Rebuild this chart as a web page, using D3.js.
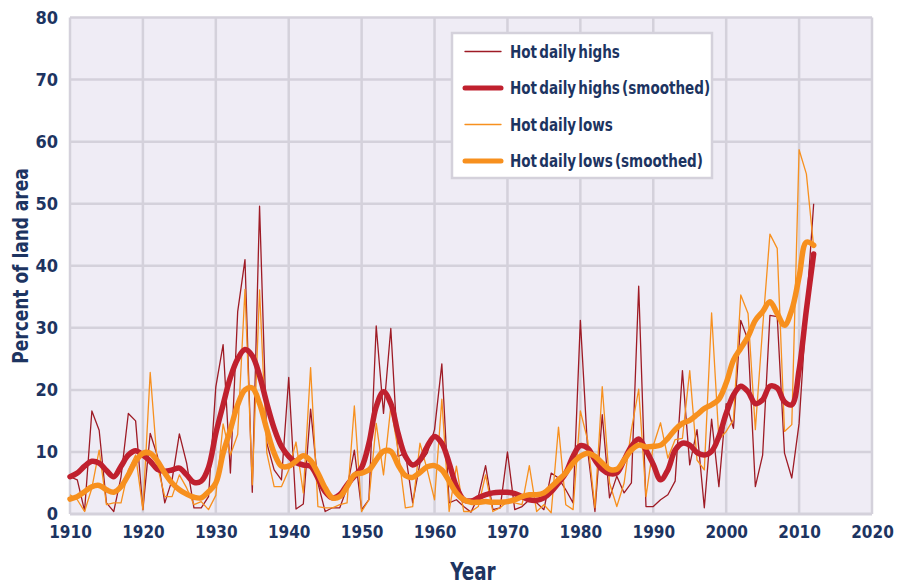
<!DOCTYPE html>
<meta charset="utf-8">
<style>
body { margin: 0; background: #fff; }
text {
  font-family: "Liberation Sans Narrow", "DejaVu Sans Condensed", "DejaVu Sans", sans-serif;
  font-stretch: condensed;
  font-weight: bold;
  fill: #1d3461;
}
.grid line { stroke: #d4d1db; stroke-width: 2.5; }
.thin { fill: none; stroke-width: 1.3; stroke-linejoin: round; }
.thick { fill: none; stroke-width: 5.5; stroke-linecap: round; stroke-linejoin: round; }
</style>
<body>
<script src="https://d3js.org/d3.v7.min.js"></script>
<script>

// years 1910 .. 2012
var startYear = 1910;

// percent of land area with unusually hot daily highs
var highs = [6.0, 5.5, 0.5, 16.6, 13.5, 1.8, 0.4, 6.0, 16.2, 15.0,
  0.7, 13.0, 9.3, 1.8, 5.5, 12.9, 8.2, 1.0, 1.0, 2.8,
  20.5, 27.3, 6.6, 32.6, 41.0, 3.5, 49.6, 11.4, 7.1, 5.5,
  22.0, 0.8, 1.6, 16.9, 5.0, 0.4, 1.0, 1.0, 4.2, 10.3,
  0.7, 2.3, 30.3, 16.2, 29.9, 9.3, 9.8, 1.8, 8.2, 9.8,
  13.6, 24.2, 1.8, 2.3, 1.2, 0.3, 2.8, 7.8, 0.7, 1.0,
  10.0, 0.7, 1.2, 2.3, 1.8, 0.7, 6.6, 5.8, 3.9, 1.8,
  31.2, 10.3, 0.4, 16.0, 2.6, 6.1, 3.4, 5.0, 36.7, 1.2,
  1.2, 2.3, 3.1, 5.3, 23.1, 7.9, 13.6, 1.0, 15.3, 4.4,
  17.8, 13.8, 31.2, 28.0, 4.4, 9.5, 32.0, 31.8, 9.8, 5.8,
  14.6, 33.0, 50.0];

var highsSmooth = [6.0, 6.6, 7.7, 8.5, 8.2, 7.0, 6.0, 7.7, 9.5, 10.2,
  9.5, 8.5, 7.2, 6.9, 7.1, 7.4, 6.3, 5.1, 5.3, 7.5,
  13.0, 17.6, 22.0, 25.0, 26.5, 25.5, 22.3, 17.8, 13.8, 10.9,
  9.3, 8.3, 7.9, 7.7, 5.8, 3.6, 2.6, 3.1, 4.7, 6.1,
  7.5, 11.4, 17.3, 19.7, 17.8, 13.0, 9.3, 7.9, 8.7, 10.9,
  12.5, 11.4, 8.2, 4.4, 2.3, 2.1, 2.6, 3.1, 3.4, 3.5,
  3.5, 3.3, 2.8, 2.3, 2.2, 2.6, 3.6, 5.0, 6.6, 9.3,
  11.0, 10.6, 8.7, 7.2, 6.5, 6.6, 8.7, 10.9, 12.1, 10.3,
  8.0, 5.5, 7.1, 10.3, 11.4, 11.1, 9.9, 9.5, 10.1, 12.5,
  16.2, 19.2, 20.6, 19.7, 17.8, 18.4, 20.6, 20.3, 18.1, 17.6,
  23.2, 32.9, 41.9];

// percent of land area with unusually hot daily lows
var lows = [3.1, 2.3, 0.4, 4.2, 10.3, 1.5, 1.8, 1.8, 7.1, 9.5,
  0.7, 22.8, 7.7, 2.8, 2.8, 6.3, 4.2, 1.5, 2.0, 0.7,
  3.0, 14.5, 9.5, 12.8, 36.2, 4.7, 36.1, 9.8, 4.4, 4.4,
  7.1, 11.6, 3.4, 23.6, 1.2, 1.0, 1.0, 1.5, 1.8, 17.4,
  0.4, 2.3, 14.6, 6.3, 17.3, 10.3, 1.0, 1.2, 11.4, 7.1,
  2.3, 18.5, 0.4, 7.7, 0.4, 0.4, 1.2, 6.3, 0.4, 1.0,
  2.0, 1.8, 1.5, 7.8, 0.4, 1.5, 0.2, 14.0, 1.5, 0.7,
  16.6, 11.9, 1.0, 20.5, 5.0, 1.2, 5.0, 13.6, 20.1, 2.8,
  11.0, 14.7, 9.0, 12.0, 12.2, 23.1, 8.7, 7.1, 32.4, 12.0,
  13.3, 15.2, 35.3, 32.3, 13.6, 30.0, 45.1, 42.8, 13.3, 14.4,
  58.7, 54.8, 43.0];

var lowsSmooth = [2.4, 2.8, 3.6, 4.4, 4.6, 3.9, 3.5, 4.4, 6.3, 8.5,
  9.8, 9.8, 8.5, 6.6, 5.0, 3.9, 3.2, 2.7, 2.6, 3.6,
  5.0, 9.8, 13.6, 17.6, 20.0, 20.3, 17.8, 13.6, 9.8, 7.7,
  7.7, 8.5, 9.4, 8.6, 6.6, 4.2, 2.6, 2.8, 4.4, 6.3,
  6.6, 7.1, 8.7, 10.1, 10.1, 7.9, 6.2, 5.9, 6.7, 7.6,
  7.8, 7.1, 5.3, 3.4, 2.3, 1.9, 1.9, 2.0, 1.9, 1.9,
  2.0, 2.3, 2.8, 3.1, 3.1, 3.4, 4.4, 5.5, 6.6, 8.2,
  9.3, 9.8, 9.3, 8.2, 7.2, 7.2, 8.7, 10.3, 11.1, 10.8,
  10.9, 11.1, 12.2, 13.6, 14.6, 15.1, 16.0, 17.0, 17.6, 18.5,
  21.1, 24.8, 26.7, 28.6, 31.2, 32.6, 34.2, 32.3, 30.4, 32.9,
  38.2, 43.8, 43.3];

var xTicks = [1910, 1920, 1930, 1940, 1950, 1960, 1970, 1980, 1990, 2000, 2010, 2020];
var yTicks = [0, 10, 20, 30, 40, 50, 60, 70, 80];

var seriesNames = ["Hot daily highs", "Hot daily highs (smoothed)", "Hot daily lows", "Hot daily lows (smoothed)"];
var seriesColors = ["#9e1b25", "#c0202e", "#f7901e", "#f7901e"];

var width = 907, height = 584;
var margin = {top: 17.5, right: 35, bottom: 70, left: 70};

var svg = d3.select("body").append("svg")
    .attr("width", width)
    .attr("height", height);

var x = d3.scaleLinear().domain([1910, 2020]).range([margin.left, width - margin.right]);
var y = d3.scaleLinear().domain([0, 80]).range([height - margin.bottom, margin.top]);

// plot background
svg.append("rect")
    .attr("x", x(1910)).attr("y", y(80))
    .attr("width", x(2020) - x(1910))
    .attr("height", y(0) - y(80))
    .attr("fill", "#efecf5");

// grid
var grid = svg.append("g").attr("class", "grid");
grid.selectAll(".v").data(xTicks).enter().append("line")
    .attr("x1", d => x(d)).attr("x2", d => x(d))
    .attr("y1", y(80)).attr("y2", y(0));
grid.selectAll(".h").data(yTicks).enter().append("line")
    .attr("x1", x(1910)).attr("x2", x(2020))
    .attr("y1", d => y(d)).attr("y2", d => y(d))
    .style("stroke-width", d => d === 0 ? 3 : 2.5);

// axes (labels only)
var xAxis = d3.axisBottom(x).tickValues(xTicks).tickFormat(d3.format("d")).tickSize(0).tickPadding(12);
var gx = svg.append("g").attr("transform", "translate(0," + y(0) + ")").call(xAxis);
gx.select(".domain").remove();
gx.selectAll("text").style("font-size", "17px").attr("fill", null);

var yAxis = d3.axisLeft(y).tickValues(yTicks).tickSize(0).tickPadding(12);
var gy = svg.append("g").attr("transform", "translate(" + x(1910) + ",0)").call(yAxis);
gy.select(".domain").remove();
gy.selectAll("text").style("font-size", "18px").attr("fill", null);

// lines
var years = highs.map((d, i) => startYear + i);
var rows = years.map((yr, i) => ({year: yr, hi: highs[i], hiS: highsSmooth[i], lo: lows[i], loS: lowsSmooth[i]}));

function line(key, curve) {
  return d3.line().x(d => x(d.year)).y(d => y(d[key])).curve(curve);
}

svg.append("path").datum(rows).attr("class", "thin")
    .attr("stroke", seriesColors[0]).attr("d", line("hi", d3.curveLinear));
svg.append("path").datum(rows).attr("class", "thin")
    .attr("stroke", seriesColors[2]).attr("d", line("lo", d3.curveLinear));
svg.append("path").datum(rows).attr("class", "thick")
    .attr("stroke", seriesColors[1]).attr("d", line("hiS", d3.curveCatmullRom));
svg.append("path").datum(rows).attr("class", "thick")
    .attr("stroke", seriesColors[3]).attr("d", line("loS", d3.curveCatmullRom));

// legend
var legend = svg.append("g").attr("transform", "translate(452,33)");
legend.append("rect")
    .attr("width", 260).attr("height", 145)
    .attr("fill", "#fff").attr("stroke", "#d4d1db").attr("stroke-width", 2.5);
var item = legend.selectAll(".item").data(seriesNames).enter().append("g")
    .attr("transform", (d, i) => "translate(0," + (18.5 + i * 36.5) + ")");
item.append("line")
    .attr("x1", 13).attr("x2", 49)
    .attr("stroke", (d, i) => seriesColors[i])
    .attr("stroke-width", (d, i) => i % 2 ? 5 : 1.3)
    .attr("stroke-linecap", "round");
item.append("text")
    .attr("transform", "translate(58,0) scale(0.86,1)")
    .attr("dy", "0.35em")
    .style("font-size", "17.5px")
    .style("word-spacing", "-3px")
    .text(d => d);

// axis titles
svg.append("text")
    .attr("transform", "translate(473,580) scale(0.85,1)")
    .attr("text-anchor", "middle")
    .style("font-size", "24px")
    .text("Year");

svg.append("text")
    .attr("transform", "translate(28,266) rotate(-90) scale(0.9,1)")
    .attr("text-anchor", "middle")
    .style("font-size", "21px")
    .text("Percent of land area");

</script>
</body>
